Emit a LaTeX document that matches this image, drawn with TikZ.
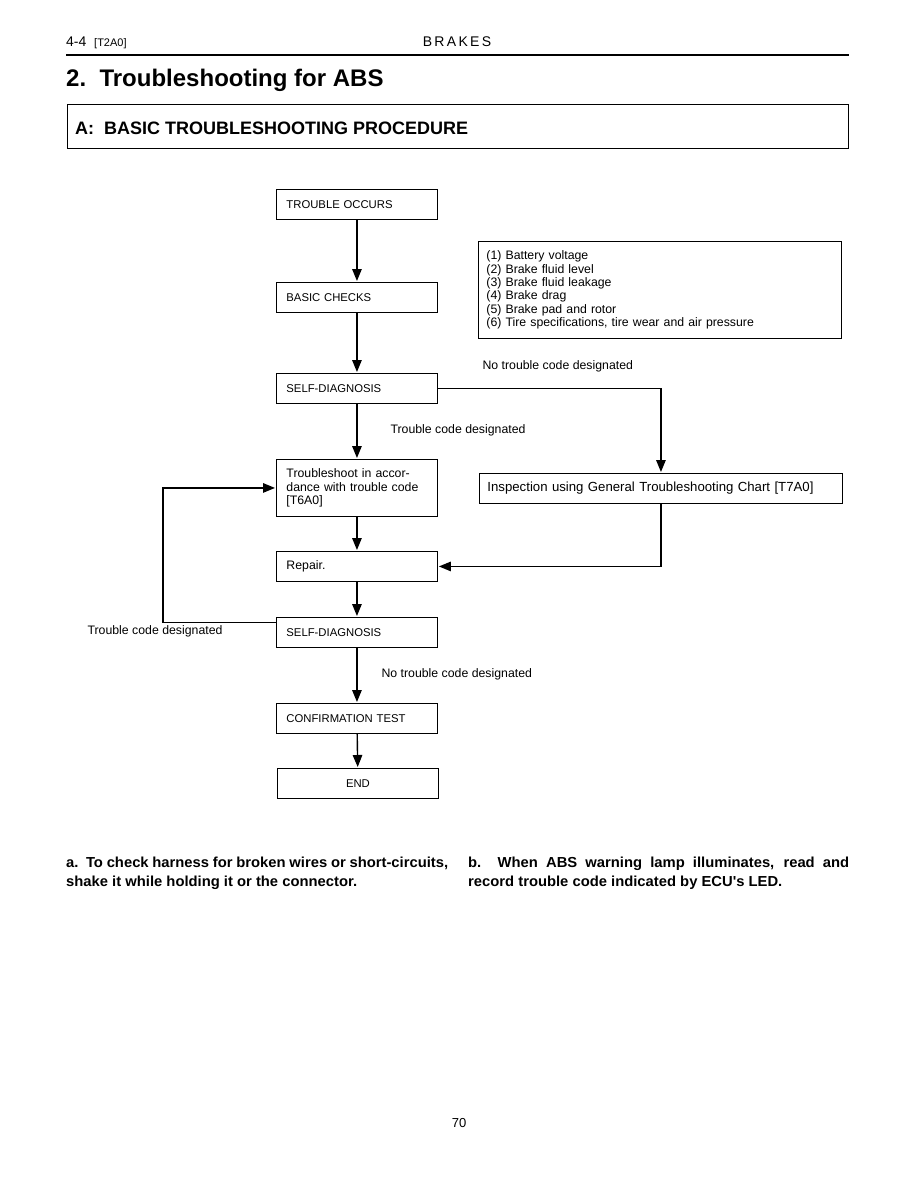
\documentclass[tikz,border=0pt]{standalone}
\usepackage{fontspec}
\setmainfont{Liberation Sans}
\newfontfamily\notefont{Liberation Sans}[FakeStretch=1.02]
\usetikzlibrary{arrows.meta, positioning}

\begin{document}
\begin{tikzpicture}[x=1pt, y=-1pt,
    stepbox/.style={draw, line width=0.9pt, anchor=north west, minimum width=161pt, minimum height=30pt,
        text width=141pt, inner xsep=10pt, inner ysep=0pt, align=left, font=\fontsize{11.3}{13.8}\selectfont},
    textbox/.style={stepbox, font=\fontsize{12.3}{13.8}\selectfont},
    listbox/.style={draw, line width=0.9pt, anchor=north west, minimum height=97pt,
        text width=347pt, inner xsep=8pt, inner ysep=6pt, align=left, font=\fontsize{12.3}{13.4}\selectfont},
    flow/.style={line width=1.4pt, -{Triangle[length=12pt, width=9.5pt]}, shorten >=1pt},
    branch_label/.style={anchor=west, font=\fontsize{12.3}{13}\selectfont},
    note/.style={anchor=north west, text width=382pt, inner sep=0pt, align=justify,
        font=\notefont\bfseries\fontsize{14.5}{19}\selectfont}
]
\useasboundingbox (0,0) rectangle (918,1188);

% ==========================
% CABECERA
% ==========================
\node[anchor=base west, inner sep=0pt] (chapter) at (66,47) {\fontsize{14}{14}\selectfont 4-4\ \ \fontsize{11}{11}\selectfont [T2A0]};
\node[anchor=base, inner sep=0pt] (brakes) at (457,47) {\fontsize{14}{14}\selectfont B\,R\,A\,K\,E\,S};
\draw[line width=2.6pt] (66,55) -- (849,55);

\node[anchor=west, inner sep=0pt, font=\bfseries\fontsize{24}{24}\selectfont] (title) at (66,80) {2.\ \ Troubleshooting for ABS};

\draw[line width=1pt] (67,105) rectangle (848,148);
\node[anchor=west, inner sep=0pt, font=\bfseries\fontsize{18}{18}\selectfont] (section) at (75,128) {A:\ \ BASIC TROUBLESHOOTING PROCEDURE};

% ==========================
% CAJAS DEL DIAGRAMA
% ==========================
\node[stepbox] (occurs) at (276,189) {TROUBLE OCCURS};
\node[stepbox] (basic)  at (276,282) {BASIC CHECKS};
\node[listbox] (checks) at (478,241) {(1) Battery voltage\\(2) Brake fluid level\\(3) Brake fluid leakage\\(4) Brake drag\\(5) Brake pad and rotor\\(6) Tire specifications, tire wear and air pressure};
\node[stepbox] (diag1)  at (276,373) {SELF-DIAGNOSIS};
\node[textbox, minimum height=57pt] (shoot) at (276,459) {Troubleshoot in accor-\\dance with trouble code\\{[T6A0]}};
\node[textbox, text width=347pt, inner xsep=8pt, minimum width=363pt, font=\fontsize{13.2}{14}\selectfont] (inspect) at (479,473) {Inspection using General Troubleshooting Chart [T7A0]};
\node[textbox] (repair) at (276,551) {Repair.};
\node[stepbox] (diag2)  at (276,617) {SELF-DIAGNOSIS};
\node[stepbox] (confirm) at (276,703) {CONFIRMATION TEST};
\node[stepbox, align=center] (finish) at (277,768) {END};

% Etiquetas de las ramas
\node[branch_label] (nocode1) at (479,366) {No trouble code designated};
\node[branch_label] (code1)   at (387,430) {Trouble code designated};
\node[branch_label] (code2)   at (84,631)  {Trouble code designated};
\node[branch_label] (nocode2) at (378,674) {No trouble code designated};

% ==========================
% CONEXIONES
% ==========================
\coordinate (loopx) at (163,0);

\draw[flow] (occurs) -- (basic);
\draw[flow] (basic) -- (diag1);
\draw[flow] (diag1) -- (shoot);
\draw[flow] (diag1.east) -| (inspect.north);
\draw[flow] (shoot) -- (repair);
\draw[flow] (inspect.south) |- (repair.east);
\draw[flow] (repair) -- (diag2);
\draw[flow] ([yshift=10pt]diag2.west) -| (loopx |- shoot.west) -- (shoot.west);
\draw[flow] (diag2) -- (confirm);
\draw[flow] (confirm) -- (finish);

% ==========================
% NOTAS
% ==========================
\node[note] (notea) at (66,857) {a.\ \ To check harness for broken wires or short-circuits,\linebreak shake it while holding it or the connector.};
\node[note, text width=381pt] (noteb) at (468,857) {b.\ \ When ABS warning lamp illuminates, read and\linebreak record trouble code indicated by ECU's LED.};

\node[font=\fontsize{13}{13}\selectfont] (page) at (459,1123) {70};

\end{tikzpicture}
\end{document}
